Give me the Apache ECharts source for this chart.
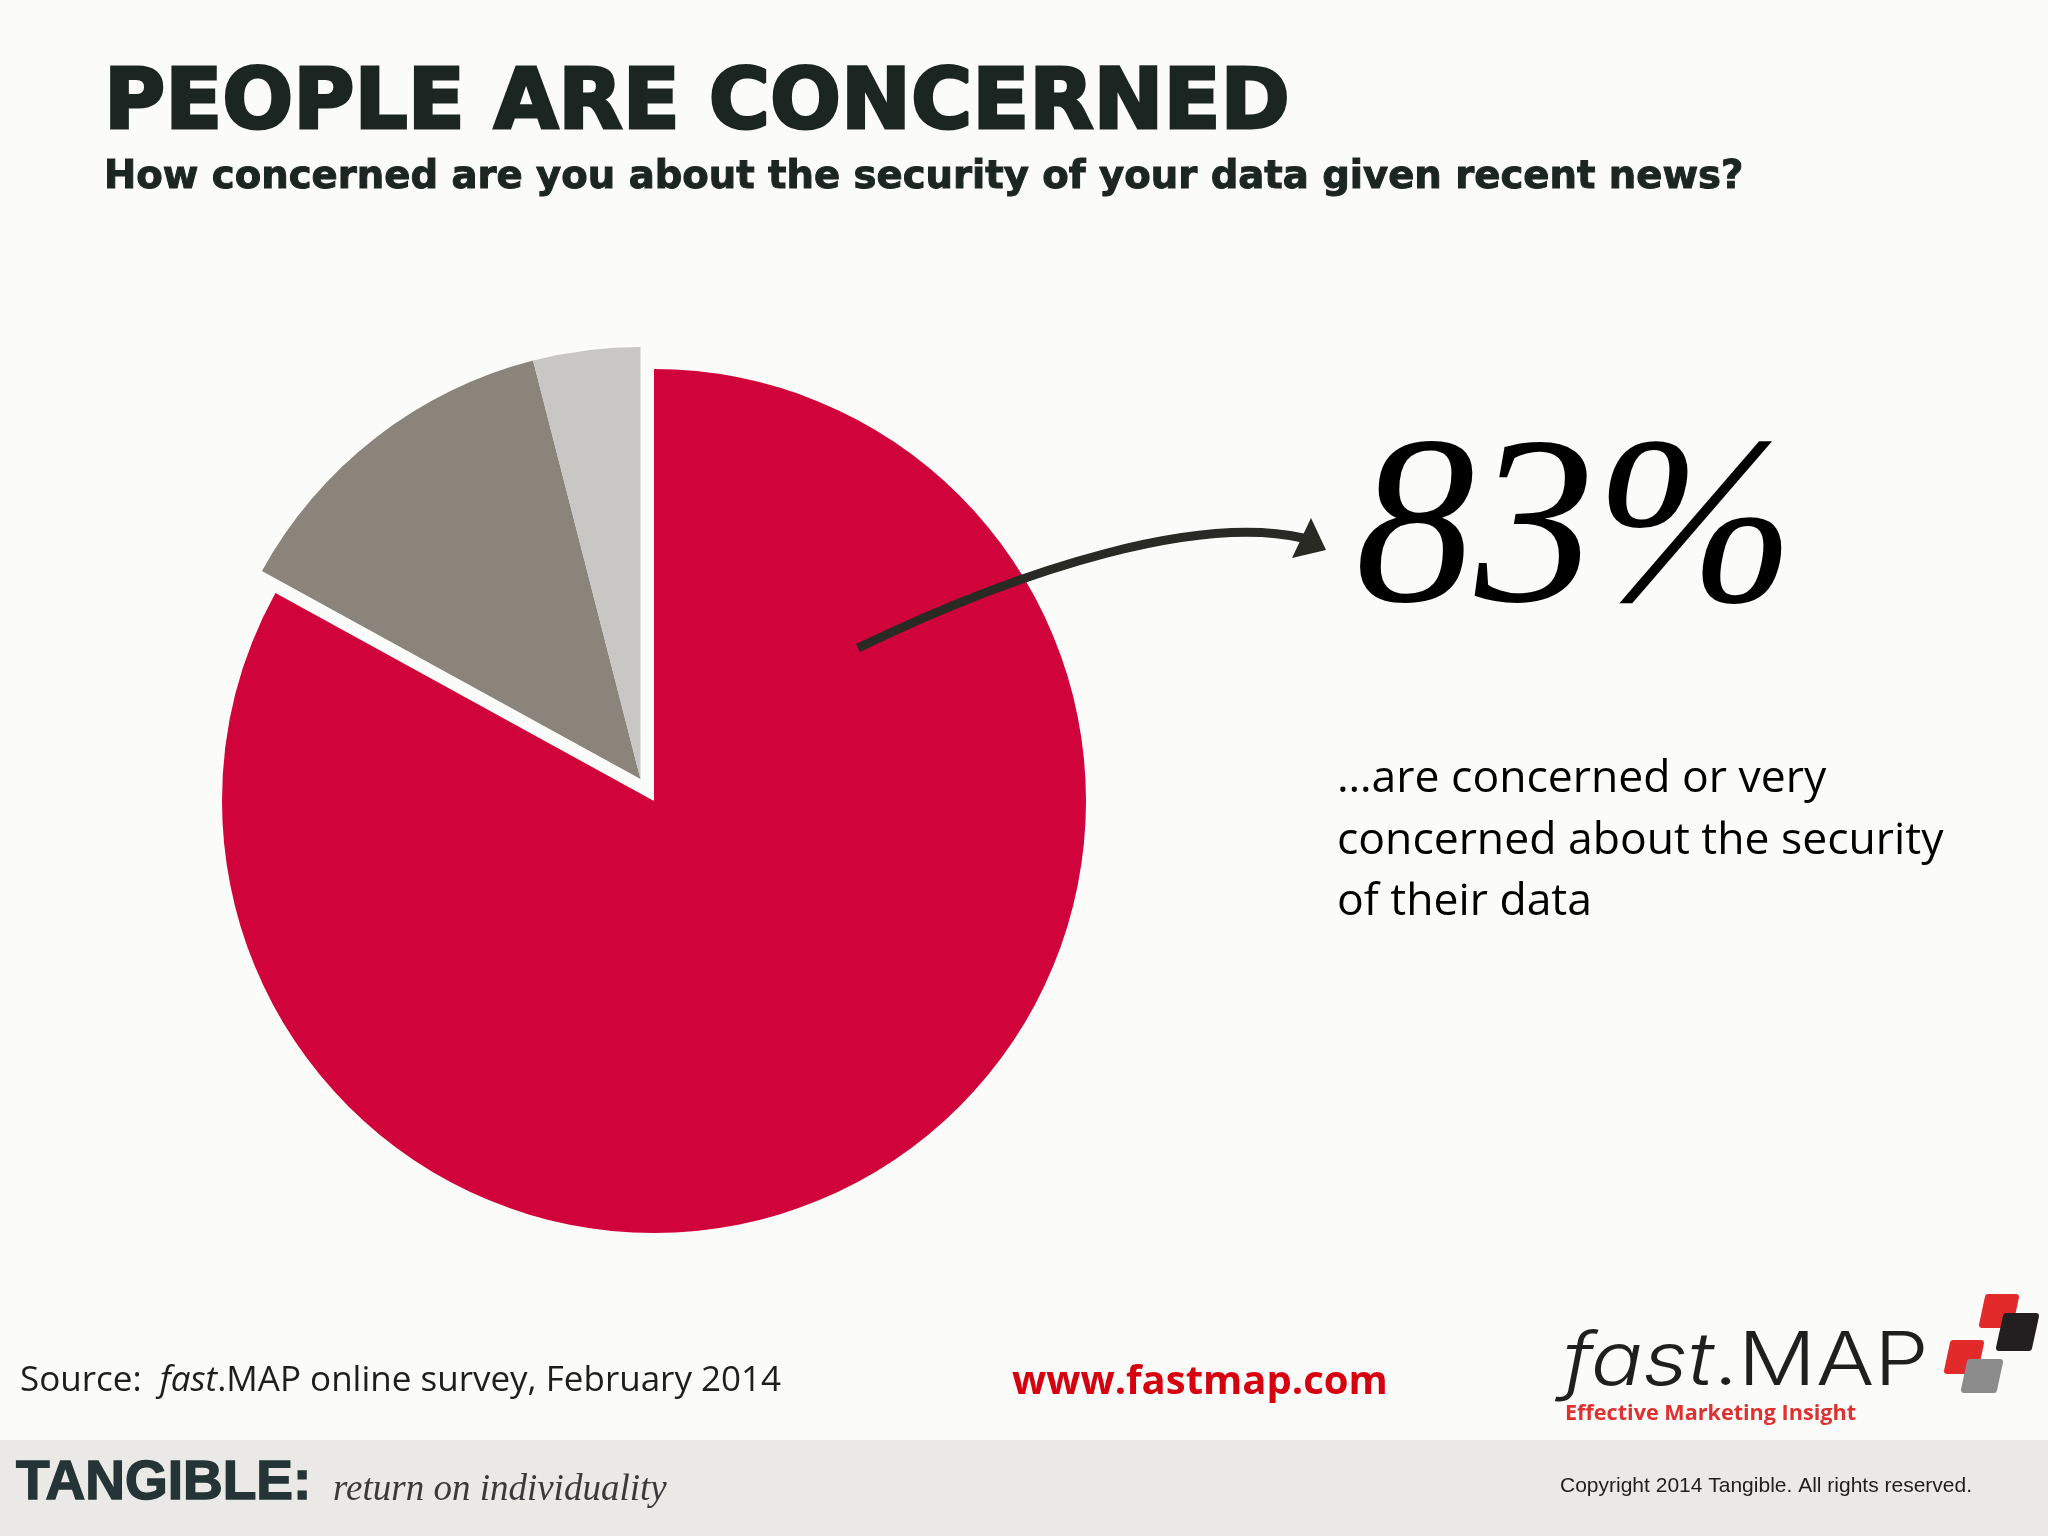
<!DOCTYPE html>
<html>
<head>
<meta charset="utf-8">
<script src="https://cdn.jsdelivr.net/npm/echarts@6/dist/echarts.min.js"></script>
<style>
  html, body { margin: 0; padding: 0; background: #FBFCF9; }
  #chart { width: 2048px; height: 1536px; }
</style>
</head>
<body>
<div id="chart"></div>
<script>
// ---- data ----
const categories = ['Concerned or very concerned', 'Not very concerned', 'Not at all concerned'];
const values = [83, 13, 4];
const headline = '83%';
const titleText = 'PEOPLE ARE CONCERNED';
const subtitleText = 'How concerned are you about the security of your data given recent news?';
const noteLines = ['…are concerned or very', 'concerned about the security', 'of their data'];

// ---- styles ----
const RED = '#D0033B';
const sliceColors = [RED, '#8A847B', '#C9C7C3'];
const INK = '#1B2522';
const NONE = 'rgba(0,0,0,0)';

const chart = echarts.init(document.getElementById('chart'), null, { renderer: 'canvas', width: 2048, height: 1536 });

function pieSeries(center, showIdx) {
  return {
    type: 'pie',
    center: center,
    radius: 432,
    startAngle: 90,
    clockwise: true,
    silent: true,
    animation: false,
    z: 1,
    label: { show: false },
    labelLine: { show: false },
    emphasis: { disabled: true },
    itemStyle: { borderWidth: 0 },
    data: categories.map((c, i) => ({
      name: c,
      value: values[i],
      itemStyle: { color: showIdx(i) ? sliceColors[i] : NONE }
    }))
  };
}

function txt(x, y, text, font, fill, align, valign, extra) {
  return {
    type: 'text', silent: true, z: 100,
    style: Object.assign({
      x: x, y: y, text: text, font: font, fill: fill,
      textAlign: align, textVerticalAlign: valign,
      align: align, verticalAlign: valign
    }, extra || {})
  };
}

function para(x0, y0, w, h, skew, color) {
  return {
    type: 'polygon', silent: true, z: 100,
    shape: { points: [[x0 + skew, y0], [x0 + w + skew, y0], [x0 + w, y0 + h], [x0, y0 + h]] },
    style: { fill: color, stroke: color, lineWidth: 6, lineJoin: 'round' }
  };
}

const option = {
  backgroundColor: '#FBFCF9',
  animation: false,
  series: [
    pieSeries([654, 801], i => i === 0),
    pieSeries([640.5, 779], i => i !== 0)
  ],
  graphic: [
    // footer band
    { type: 'rect', silent: true, z: 50, shape: { x: 0, y: 1440, width: 2048, height: 96 }, style: { fill: '#EAE9E6' } },
    // title + subtitle
    txt(104, 106, titleText, 'bold 83.5px "DejaVu Sans"', INK, 'left', 'middle', { stroke: INK, lineWidth: 3 }),
    txt(104, 178, subtitleText, 'bold 38.6px "DejaVu Sans"', INK, 'left', 'middle', { stroke: INK, lineWidth: 1 }),
    // big number
    txt(1575, 538, headline, 'italic 240px "Liberation Serif"', '#000000', 'center', 'middle'),
    // note
    txt(1337, 841, noteLines.join('\n'), '44.5px "Open Sans"', '#000000', 'left', 'middle', { lineHeight: 61.5 }),
    // arrow
    { type: 'bezierCurve', silent: true, z: 100,
      shape: { x1: 858, y1: 648, cpx1: 1030, cpy1: 565, cpx2: 1200, cpy2: 515, x2: 1303, y2: 538 },
      style: { stroke: '#2A2A24', lineWidth: 9, fill: null } },
    { type: 'polygon', silent: true, z: 100,
      shape: { points: [[1311, 518], [1326, 550], [1292, 558]] },
      style: { fill: '#2A2A24' } },
    // source
    { type: 'text', silent: true, z: 100,
      style: {
        x: 20, y: 1381, textVerticalAlign: 'middle', verticalAlign: 'middle',
        text: '{n|Source:  }{i|fast}{n|.MAP online survey, February 2014}',
        rich: {
          n: { font: '35px "Open Sans"', fill: '#1E1E1E' },
          i: { font: 'italic 35px "Open Sans"', fill: '#1E1E1E' }
        }
      } },
    txt(1012, 1383, 'www.fastmap.com', 'bold 40px "Open Sans"', '#D7000F', 'left', 'middle'),
    // logo
    { type: 'text', silent: true, z: 100, x: 1563, y: 1363, scaleX: 1.17,
      style: {
        x: 0, y: 0, textVerticalAlign: 'middle', verticalAlign: 'middle',
        text: '{a|fast}{b|.MAP}',
        rich: {
          a: { font: 'italic 300 74px "Inter"', fill: '#1F1F1F' },
          b: { font: '300 74px "Inter"', fill: '#1F1F1F' }
        }
      } },
    txt(1565, 1414, 'Effective Marketing Insight', 'bold 21.6px "Open Sans"', '#E03131', 'left', 'middle'),
    para(1982, 1297, 28, 28, 6, '#E32A2A'),
    para(1999, 1316, 30, 32, 7, '#231F20'),
    para(1947, 1343, 28, 28, 6, '#E32A2A'),
    para(1964, 1362, 30, 28, 6, '#8C8C8C'),
    // footer texts
    txt(16, 1484, 'TANGIBLE:', 'bold 55px "Liberation Sans"', '#253436', 'left', 'middle', { stroke: '#253436', lineWidth: 1.5 }),
    txt(333, 1490, 'return on individuality', 'italic 37px "Liberation Serif"', '#3A3A3A', 'left', 'middle'),
    txt(1560, 1486, 'Copyright 2014 Tangible. All rights reserved.', '21px "Liberation Sans"', '#1E1E1E', 'left', 'middle')
  ]
};

chart.setOption(option);
</script>
</body>
</html>
